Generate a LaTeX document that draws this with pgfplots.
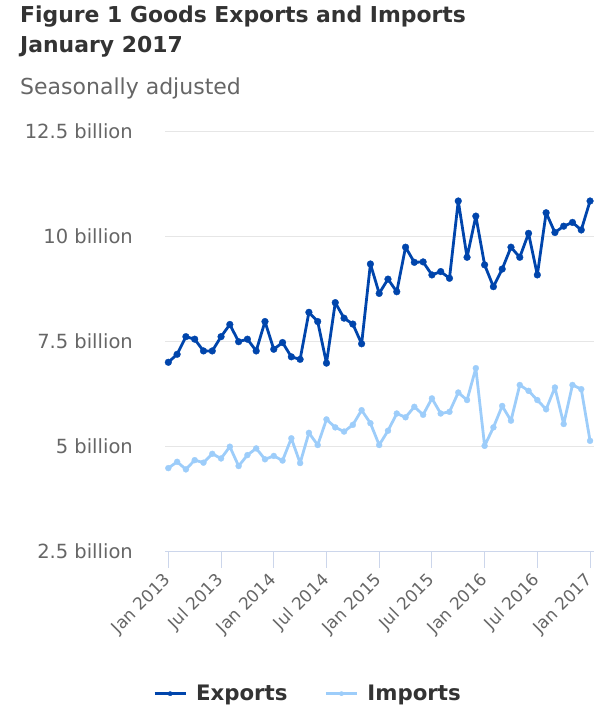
\documentclass[border=0pt]{standalone}
\usepackage{pgfplots}
\pgfplotsset{compat=1.18}
\usepackage{fontspec}
\setmainfont{DejaVu Sans}
\definecolor{expc}{HTML}{0045AC}
\definecolor{impc}{HTML}{9DCDFA}
\definecolor{axiscol}{HTML}{CCD6EB}
\definecolor{gridc}{HTML}{E6E6E6}
\definecolor{txtdark}{HTML}{333333}
\definecolor{txtgray}{HTML}{666666}
\begin{document}
\begin{tikzpicture}
\path[use as bounding box] (0bp,0bp) rectangle (614bp,714bp);
\node[anchor=base west, inner sep=0pt, text=txtdark, font=\fontsize{21.9bp}{26bp}\selectfont\bfseries] at (20bp,691.3bp) {Figure 1 Goods Exports and Imports};
\node[anchor=base west, inner sep=0pt, text=txtdark, font=\fontsize{21.9bp}{26bp}\selectfont\bfseries] at (20bp,661.3bp) {January 2017};
\node[anchor=base west, inner sep=0pt, text=txtgray, font=\fontsize{22bp}{26bp}\selectfont] at (20bp,619.7bp) {Seasonally adjusted};
\begin{axis}[
  at={(165bp,162.3bp)}, anchor=south west,
  width=429bp, height=420bp, scale only axis,
  xmin=-0.38, xmax=48.45, ymin=2.5, ymax=12.5,
  axis line style={draw=none},
  xtick={0,6,12,18,24,30,36,42,48},
  xticklabels={Jan 2013,Jul 2013,Jan 2014,Jul 2014,Jan 2015,Jul 2015,Jan 2016,Jul 2016,Jan 2017},
  ytick={2.5,5,7.5,10,12.5},
  yticklabels={2.5 billion,5 billion,7.5 billion,10 billion,12.5 billion},
  xtick pos=bottom, ytick pos=left,
  tick align=outside,
  major tick length=16bp,
  xtick style={draw=axiscol, line width=1bp},
  ytick style={draw=none},
  ymajorgrids, major grid style={draw=gridc, line width=1bp},
  yticklabel style={text=txtgray, font=\fontsize{19.5bp}{22bp}\selectfont, anchor=east, inner sep=0pt, xshift=-16bp},
  xticklabel style={text=txtgray, font=\fontsize{17bp}{20bp}\selectfont, rotate=45, anchor=east, inner sep=0pt},
  xticklabel shift=10bp,
  legend style={at={(axis description cs:0.3345,-0.338)}, anchor=center, draw=none, fill=none,
    font=\fontsize{21.3bp}{24bp}\selectfont\bfseries, text=txtdark,
    legend columns=2, /tikz/every even column/.append style={column sep=34bp},
    /tikz/every odd column/.append style={column sep=6bp},
    nodes={inner sep=3bp}},
  legend image code/.code={\draw[mark repeat=2, mark phase=2, #1, mark size=2.2bp] plot coordinates {(0bp,0bp) (15.5bp,0bp) (31bp,0bp)};},
  clip=false,
]
\draw[axiscol, line width=1bp] (rel axis cs:0,0) -- (rel axis cs:1,0);
\addplot[color=expc, line width=2.8bp, line join=round, mark=*, mark size=3.4bp, mark options={solid, fill=expc, draw=expc, line width=0.3bp}] coordinates {
(0,7.01) (1,7.20) (2,7.62) (3,7.56) (4,7.28) (5,7.28) (6,7.62) (7,7.91) (8,7.50) (9,7.56) (10,7.28) (11,7.98)
(12,7.32) (13,7.48) (14,7.14) (15,7.08) (16,8.20) (17,7.98) (18,6.99) (19,8.43) (20,8.06) (21,7.92) (22,7.45) (23,9.35)
(24,8.65) (25,8.99) (26,8.69) (27,9.75) (28,9.39) (29,9.40) (30,9.09) (31,9.17) (32,9.01) (33,10.85) (34,9.51) (35,10.49)
(36,9.33) (37,8.81) (38,9.23) (39,9.75) (40,9.51) (41,10.08) (42,9.09) (43,10.57) (44,10.10) (45,10.25) (46,10.34) (47,10.16)
(48,10.85)};
\addlegendentry{Exports}
\addplot[color=impc, line width=2.8bp, line join=round, mark=*, mark size=3bp, mark options={solid, fill=impc, draw=impc, line width=0.3bp}] coordinates {
(0,4.49) (1,4.64) (2,4.46) (3,4.68) (4,4.62) (5,4.83) (6,4.72) (7,5.00) (8,4.54) (9,4.80) (10,4.96) (11,4.70)
(12,4.78) (13,4.67) (14,5.20) (15,4.61) (16,5.33) (17,5.04) (18,5.65) (19,5.46) (20,5.36) (21,5.52) (22,5.87) (23,5.56)
(24,5.04) (25,5.38) (26,5.79) (27,5.70) (28,5.95) (29,5.76) (30,6.15) (31,5.79) (32,5.83) (33,6.29) (34,6.11) (35,6.87)
(36,5.02) (37,5.46) (38,5.97) (39,5.62) (40,6.47) (41,6.33) (42,6.11) (43,5.89) (44,6.41) (45,5.54) (46,6.47) (47,6.37)
(48,5.14)};
\addlegendentry{Imports}
\end{axis}
\end{tikzpicture}
\end{document}
